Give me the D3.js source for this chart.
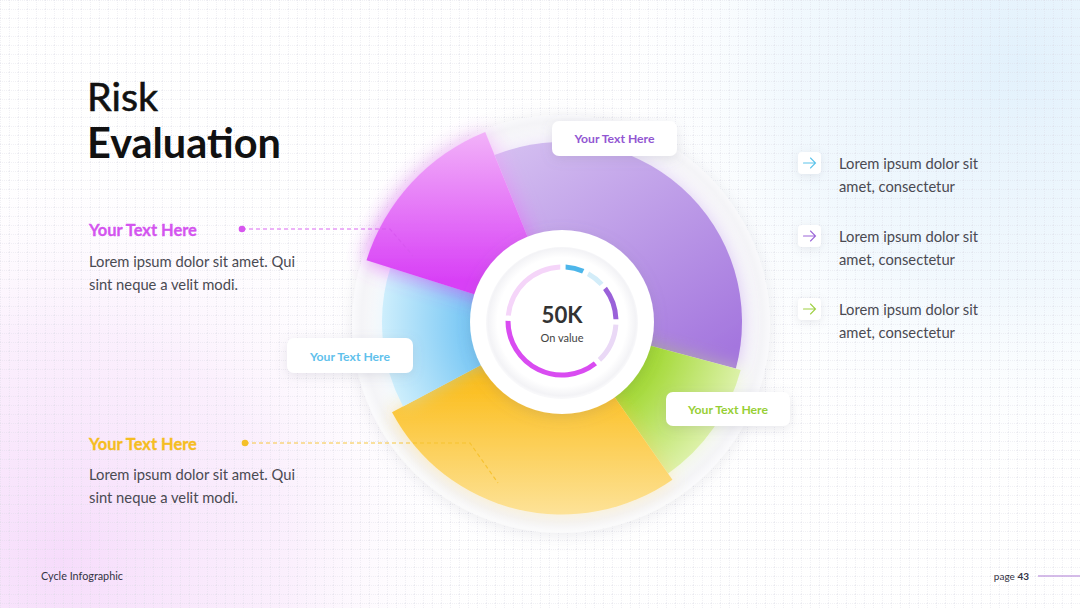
<!DOCTYPE html>
<html><head><meta charset="utf-8">
<script src="https://cdn.jsdelivr.net/npm/d3@7"></script>
<style>html,body{margin:0;padding:0;background:#fff;}svg{display:block;}</style>
</head><body>
<svg id="chart" width="1080" height="608"></svg>
<script>
// ---------- DATA ----------
const categories   = ["Purple", "Green", "Yellow", "Blue", "Magenta"];
const shareValues  = [127, 40, 97, 45.5, 50.5];   // angular share (degrees of the circle)
const scoreValues  = [72, 74, 77, 72, 82];         // risk score -> slice radius
const centerValue  = "50K";
const centerLabel  = "On value";
const ringValues   = [21, 20, 37, 44, 130, 84];    // progress ring segments
const boxLabels    = ["Your Text Here", "Your Text Here", "Your Text Here"];
const leftHeads    = ["Your Text Here", "Your Text Here"];
const leftBody     = ["Lorem ipsum dolor sit amet. Qui", "sint neque a velit modi."];
const rightItems   = [["Lorem ipsum dolor sit", "amet, consectetur"],
                      ["Lorem ipsum dolor sit", "amet, consectetur"],
                      ["Lorem ipsum dolor sit", "amet, consectetur"]];
const titleLines   = ["Risk", "Evaluation"];
const footerLeft   = "Cycle Infographic";
const pageNumber   = "43";

// ---------- STYLE ----------
const FONT = "Lato, 'Open Sans', sans-serif";
const sliceGrad = {
  Purple:  { c: ["#d3bdf0", "#a476de"], lin: [-40, -180, 120, 60] },
  Green:   { c: ["#9fd72e", "#dcf1a8"] },
  Yellow:  { c: ["#fbbb14", "#fde39a"], lin: [0, 50, 0, 195] },
  Blue:    { c: ["#74c5f4", "#cdeefc"] },
  Magenta: { c: ["#f2b2f9", "#d83ff6"], lin: [0, -190, 0, -40] }
};
const ringColors = ["#4db6ea", "#d3edf9", "#9a61d9", "#ead9f6", "#d94cf1", "#f5d5f9"];

const svg = d3.select("#chart");
const defs = svg.append("defs");
const W = 1080, H = 608;
const cx = 562, cy = 322;
const toRad = d => d * Math.PI / 180;

function fit(sel, target) {
  const n = sel.node();
  const w = n.getComputedTextLength();
  const fs = parseFloat(sel.attr("font-size"));
  if (w > 0) sel.attr("font-size", (fs * target / w).toFixed(2));
  return sel;
}

// ---------- BACKGROUND ----------
svg.append("rect").attr("width", W).attr("height", H).attr("fill", "#ffffff");
const pink = defs.append("radialGradient").attr("id", "bgPink").attr("gradientUnits", "userSpaceOnUse")
  .attr("cx", 60).attr("cy", 560).attr("r", 420);
pink.append("stop").attr("offset", 0).attr("stop-color", "#f6dcfb").attr("stop-opacity", 1);
pink.append("stop").attr("offset", 0.55).attr("stop-color", "#f9e9fc").attr("stop-opacity", 0.7);
pink.append("stop").attr("offset", 1).attr("stop-color", "#ffffff").attr("stop-opacity", 0);
const blue = defs.append("radialGradient").attr("id", "bgBlue").attr("gradientUnits", "userSpaceOnUse")
  .attr("cx", 1020).attr("cy", 60).attr("r", 430);
blue.append("stop").attr("offset", 0).attr("stop-color", "#e2f1fc").attr("stop-opacity", 1);
blue.append("stop").attr("offset", 0.55).attr("stop-color", "#ecf6fd").attr("stop-opacity", 0.7);
blue.append("stop").attr("offset", 1).attr("stop-color", "#ffffff").attr("stop-opacity", 0);
svg.append("rect").attr("width", W).attr("height", H).attr("fill", "url(#bgPink)");
svg.append("rect").attr("width", W).attr("height", H).attr("fill", "url(#bgBlue)");

const pat = defs.append("pattern").attr("id", "grid").attr("patternUnits", "userSpaceOnUse")
  .attr("width", 9).attr("height", 9);
pat.append("path").attr("d", "M0 0.5H9M0.5 0V9").attr("stroke", "#d8d8e4")
  .attr("stroke-width", 0.6).attr("stroke-dasharray", "1 1").attr("fill", "none").attr("opacity", 0.6);
svg.append("rect").attr("width", W).attr("height", H).attr("fill", "url(#grid)");

// ---------- FILTERS ----------
function shadow(id, dy, blur, color, op) {
  const f = defs.append("filter").attr("id", id).attr("x", "-50%").attr("y", "-50%").attr("width", "200%").attr("height", "200%");
  f.append("feDropShadow").attr("dx", 0).attr("dy", dy).attr("stdDeviation", blur)
    .attr("flood-color", color).attr("flood-opacity", op);
}
shadow("shOuter", 2, 8, "#8a8aa0", 0.18);
shadow("shInner", 3, 7, "#7a7a90", 0.22);
shadow("shBox", 3, 6, "#7a7a90", 0.18);
shadow("shIcon", 2, 4, "#7a7a90", 0.16);
function glowFilter(id, blur, slope) {
  const f = defs.append("filter").attr("id", id).attr("x", "-30%").attr("y", "-30%").attr("width", "160%").attr("height", "160%");
  f.append("feGaussianBlur").attr("in", "SourceGraphic").attr("stdDeviation", blur).attr("result", "b");
  f.append("feComponentTransfer").attr("in", "b").attr("result", "bb")
    .append("feFuncA").attr("type", "linear").attr("slope", slope);
  const m = f.append("feMerge");
  m.append("feMergeNode").attr("in", "bb");
  m.append("feMergeNode").attr("in", "SourceGraphic");
}
glowFilter("glow", 9, 0.5);
glowFilter("glowStrong", 11, 0.8);

// ---------- OUTER RING ----------
const ringGrad = defs.append("radialGradient").attr("id", "outerDisk").attr("gradientUnits", "userSpaceOnUse")
  .attr("cx", cx).attr("cy", cy).attr("r", 209);
ringGrad.append("stop").attr("offset", 0.85).attr("stop-color", "#fdfdfe");
ringGrad.append("stop").attr("offset", 0.96).attr("stop-color", "#f4f4f7");
ringGrad.append("stop").attr("offset", 1).attr("stop-color", "#fafafc");
svg.append("circle").attr("cx", cx - 1).attr("cy", cy + 2).attr("r", 209)
  .attr("fill", "url(#outerDisk)").attr("filter", "url(#shOuter)");

// ---------- SLICES ----------
const data = categories.map((c, i) => ({ cat: c, share: shareValues[i], score: scoreValues[i] }));
const rScale = d3.scaleLinear().domain([0, 100]).range([0, 250]);
const pie = d3.pie().sort(null).value(d => d.share).startAngle(toRad(-22)).endAngle(toRad(338));
const arcs = pie(data);

data.forEach(d => {
  const s = sliceGrad[d.cat];
  let g;
  if (s.lin) {
    g = defs.append("linearGradient").attr("id", "g" + d.cat).attr("gradientUnits", "userSpaceOnUse")
      .attr("x1", s.lin[0]).attr("y1", s.lin[1]).attr("x2", s.lin[2]).attr("y2", s.lin[3]);
    g.append("stop").attr("offset", 0).attr("stop-color", s.c[0]);
    g.append("stop").attr("offset", 1).attr("stop-color", s.c[1]);
  } else {
    g = defs.append("radialGradient").attr("id", "g" + d.cat).attr("gradientUnits", "userSpaceOnUse")
      .attr("cx", 0).attr("cy", 0).attr("r", rScale(d.score));
    g.append("stop").attr("offset", 0.5).attr("stop-color", s.c[0]);
    g.append("stop").attr("offset", 1).attr("stop-color", s.c[1]);
  }
});

const arcGen = d3.arc().innerRadius(0).outerRadius(d => rScale(d.data.score));
svg.append("g").attr("transform", `translate(${cx},${cy})`)
  .selectAll("path").data(arcs).join("path")
  .attr("d", arcGen)
  .attr("fill", d => `url(#g${d.data.cat})`)
  .attr("filter", d => d.data.cat === "Magenta" ? "url(#glowStrong)" : "url(#glow)");

// ---------- LEADER LINES ----------
const leaders = [
  { color: "#d756ef", pts: [[242, 229], [390, 229], [413, 256]] },
  { color: "#f5c02a", pts: [[245, 443], [470, 443], [498, 483]] }
];
leaders.forEach(l => {
  svg.append("path").attr("d", d3.line()(l.pts)).attr("fill", "none")
    .attr("stroke", l.color).attr("stroke-width", 1.1).attr("stroke-dasharray", "4 3").attr("opacity", 0.9);
  svg.append("circle").attr("cx", l.pts[0][0]).attr("cy", l.pts[0][1]).attr("r", 3.3).attr("fill", l.color);
});

// ---------- CENTER ----------
svg.append("circle").attr("cx", cx).attr("cy", cy).attr("r", 92).attr("fill", "#ffffff").attr("filter", "url(#shInner)");
const innerG = defs.append("radialGradient").attr("id", "innerG").attr("gradientUnits", "userSpaceOnUse")
  .attr("cx", cx).attr("cy", cy).attr("r", 76);
innerG.append("stop").attr("offset", 0.85).attr("stop-color", "#ffffff");
innerG.append("stop").attr("offset", 0.97).attr("stop-color", "#f3f3f6");
innerG.append("stop").attr("offset", 1).attr("stop-color", "#f8f8fa");
svg.append("circle").attr("cx", cx).attr("cy", cy + 1).attr("r", 76).attr("fill", "url(#innerG)");

const ringPie = d3.pie().sort(null).startAngle(toRad(1)).endAngle(toRad(361)).padAngle(toRad(4));
const ringArc = d3.arc().innerRadius(51.5).outerRadius(56.5);
svg.append("g").attr("transform", `translate(${cx},${cy - 1})`)
  .selectAll("path").data(ringPie(ringValues)).join("path")
  .attr("d", ringArc).attr("fill", (d, i) => ringColors[i]);

fit(svg.append("text").attr("x", cx).attr("y", 323).attr("text-anchor", "middle")
  .attr("font-family", FONT).attr("font-weight", 700).attr("font-size", 24).attr("fill", "#333333")
  .text(centerValue), 41);
fit(svg.append("text").attr("x", cx).attr("y", 342).attr("text-anchor", "middle")
  .attr("font-family", FONT).attr("font-size", 11).attr("fill", "#444444")
  .text(centerLabel), 43);

// ---------- LABEL BOXES ----------
const boxes = [
  { x: 552, y: 121, w: 125, h: 35, color: "#9256d2", base: 143 },
  { x: 287, y: 338, w: 126, h: 35, color: "#5fc1ec", base: 361 },
  { x: 666, y: 392, w: 124, h: 34, color: "#97cf35", base: 414 }
];
boxes.forEach((b, i) => {
  svg.append("rect").attr("x", b.x).attr("y", b.y).attr("width", b.w).attr("height", b.h)
    .attr("rx", 7).attr("fill", "#ffffff").attr("filter", "url(#shBox)");
  fit(svg.append("text").attr("x", b.x + b.w / 2).attr("y", b.base).attr("text-anchor", "middle")
    .attr("font-family", FONT).attr("font-weight", 700).attr("font-size", 12).attr("fill", b.color)
    .text(boxLabels[i]), 80);
});

// ---------- TITLE ----------
fit(svg.append("text").attr("x", 87).attr("y", 111).attr("font-family", FONT).attr("font-size", 38)
  .attr("fill", "#111111").attr("stroke", "#111111").attr("stroke-width", 0.6).text(titleLines[0]), 71);
fit(svg.append("text").attr("x", 87).attr("y", 158).attr("font-family", FONT).attr("font-weight", 700)
  .attr("font-size", 40).attr("fill", "#111111").text(titleLines[1]), 194);

// ---------- LEFT TEXT ----------
const leftBlocks = [
  { color: "#d454ef", head: 236, body: [267, 290] },
  { color: "#f5bd22", head: 450, body: [480, 503] }
];
leftBlocks.forEach((b, i) => {
  fit(svg.append("text").attr("x", 89).attr("y", b.head).attr("font-family", FONT).attr("font-weight", 700)
    .attr("font-size", 15).attr("fill", b.color).attr("stroke", b.color).attr("stroke-width", 0.3)
    .text(leftHeads[i]), 108);
  let fs = 14;
  leftBody.forEach((t, j) => {
    const s = svg.append("text").attr("x", 89).attr("y", b.body[j]).attr("font-family", FONT)
      .attr("font-size", fs).attr("fill", "#4a4a52").text(t);
    if (j === 0) { fit(s, 206); fs = s.attr("font-size"); }
  });
});

// ---------- RIGHT LIST ----------
const arrowColors = ["#5cc3ea", "#9c66d8", "#9fd043"];
rightItems.forEach((lines, i) => {
  const y0 = 163 + i * 73;
  svg.append("rect").attr("x", 798).attr("y", y0 - 11).attr("width", 23).attr("height", 22).attr("rx", 4)
    .attr("fill", "#ffffff").attr("filter", "url(#shIcon)");
  svg.append("path").attr("d", `M${803.5},${y0}H${815.5}M${810.5},${y0 - 5}L${815.5},${y0}L${810.5},${y0 + 5}`)
    .attr("fill", "none").attr("stroke", arrowColors[i]).attr("stroke-width", 1.1).attr("stroke-linecap", "round");
  lines.forEach((t, j) => {
    const s = svg.append("text").attr("x", 839).attr("y", y0 + 6 + j * 23).attr("font-family", FONT)
      .attr("font-size", 14).attr("fill", "#4a4a52").text(t);
    if (j === 0) fit(s, 139); else fit(s, 116);
  });
});

// ---------- FOOTER ----------
fit(svg.append("text").attr("x", 41).attr("y", 580).attr("font-family", FONT).attr("font-size", 10)
  .attr("fill", "#333344").text(footerLeft), 82);
const pg = svg.append("text").attr("x", 1029).attr("y", 580).attr("text-anchor", "end")
  .attr("font-family", FONT).attr("font-size", 10).attr("fill", "#333344");
pg.append("tspan").text("page ");
pg.append("tspan").attr("font-weight", 700).text(pageNumber);
svg.append("line").attr("x1", 1038).attr("x2", 1080).attr("y1", 576).attr("y2", 576)
  .attr("stroke", "#c7a6e2").attr("stroke-width", 1.5);
</script>
</body></html>
